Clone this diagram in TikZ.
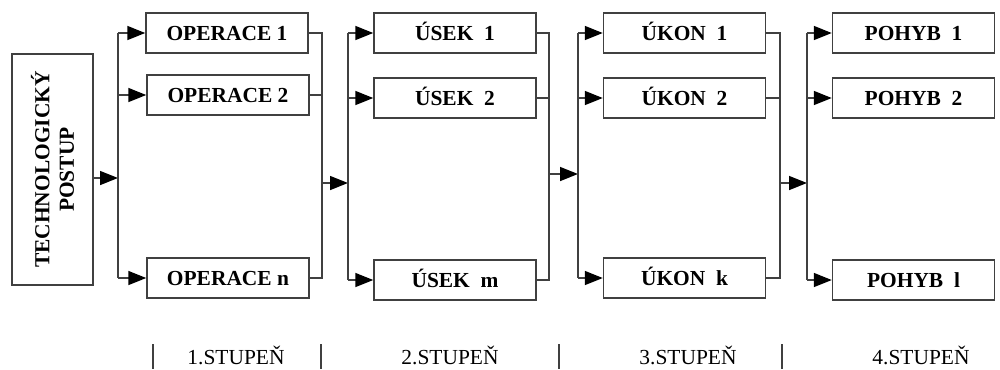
\documentclass[tikz,border=0pt]{standalone}
\usepackage{fontspec}
\setmainfont{Liberation Serif}
\usetikzlibrary{arrows.meta}

\begin{document}
\begin{tikzpicture}[x = 0.02cm, y = -0.02cm, line width = 0.85pt, draw = black!75,
	blok/.style = {draw, fill=white, minimum width=3.24cm, minimum height=0.8cm, inner sep=0pt, text height=8.2pt, text depth=0pt, font=\fontsize{12.2}{14}\selectfont\bfseries},
	sipka/.style = {-{Triangle[length=0.36cm,width=0.28cm,fill=black,color=black]}},
	stupen/.style = {font=\fontsize{12.2}{14}\selectfont},]
		\useasboundingbox (0,0) rectangle (1000,369);

		\node[blok, rotate=90, minimum width=4.62cm, minimum height=1.62cm, text height=, text depth=, align=center] (T) at (52.5,169.5) {TECHNOLOGICKÝ\\POSTUP};

		\node[blok] (O1) at (227,33) {OPERACE 1};
		\node[blok] (O2) at (228,95) {OPERACE 2};
		\node[blok] (On) at (228,278) {OPERACE n};

		\node[blok] (U1) at (455,33) {ÚSEK\enspace 1};
		\node[blok] (U2) at (455,98) {ÚSEK\enspace 2};
		\node[blok] (Um) at (455,280) {ÚSEK\enspace m};

		\node[blok] (K1) at (684.5,33) {ÚKON\enspace 1};
		\node[blok] (K2) at (684.5,98) {ÚKON\enspace 2};
		\node[blok] (Kk) at (684.5,278) {ÚKON\enspace k};

		\node[blok] (P1) at (913.5,33) {POHYB\enspace 1};
		\node[blok] (P2) at (913.5,98) {POHYB\enspace 2};
		\node[blok] (Pl) at (913.5,280) {POHYB\enspace l};

		% kmeny a sberace
		\coordinate (t1) at (118,178);
		\coordinate (c1) at (322,183);
		\coordinate (t2) at (348,183);
		\coordinate (c2) at (549,174);
		\coordinate (t3) at (578,174);
		\coordinate (c3) at (780,183);
		\coordinate (t4) at (807,183);

		% 1. stupen
		\draw[sipka] (T.south |- t1) -- (t1);
		\draw (O1.west -| t1) -- (On.west -| t1);
		\draw[sipka] (O1.west -| t1) -- (O1.west);
		\draw[sipka] (O2.west -| t1) -- (O2.west);
		\draw[sipka] (On.west -| t1) -- (On.west);
		\draw (O1.east) -- (O1.east -| c1) -- (On.east -| c1) -- (On.east);
		\draw (O2.east) -- (O2.east -| c1);

		% 2. stupen
		\draw[sipka] (c1) -- (t2);
		\draw (U1.west -| t2) -- (Um.west -| t2);
		\draw[sipka] (U1.west -| t2) -- (U1.west);
		\draw[sipka] (U2.west -| t2) -- (U2.west);
		\draw[sipka] (Um.west -| t2) -- (Um.west);
		\draw (U1.east) -- (U1.east -| c2) -- (Um.east -| c2) -- (Um.east);
		\draw (U2.east) -- (U2.east -| c2);

		% 3. stupen
		\draw[sipka] (c2) -- (t3);
		\draw (K1.west -| t3) -- (Kk.west -| t3);
		\draw[sipka] (K1.west -| t3) -- (K1.west);
		\draw[sipka] (K2.west -| t3) -- (K2.west);
		\draw[sipka] (Kk.west -| t3) -- (Kk.west);
		\draw (K1.east) -- (K1.east -| c3) -- (Kk.east -| c3) -- (Kk.east);
		\draw (K2.east) -- (K2.east -| c3);

		% 4. stupen
		\draw[sipka] (c3) -- (t4);
		\draw (P1.west -| t4) -- (Pl.west -| t4);
		\draw[sipka] (P1.west -| t4) -- (P1.west);
		\draw[sipka] (P2.west -| t4) -- (P2.west);
		\draw[sipka] (Pl.west -| t4) -- (Pl.west);

		% popisky
		\draw[line width=0.6pt] (153,344) -- (153,369);
		\draw[line width=0.6pt] (321,344) -- (321,369);
		\draw[line width=0.6pt] (559,344) -- (559,369);
		\draw[line width=0.6pt] (782,344) -- (782,369);
		\node[stupen] (S1) at (236,355) {1.STUPEŇ};
		\node[stupen] (S2) at (450,355) {2.STUPEŇ};
		\node[stupen] (S3) at (688,355) {3.STUPEŇ};
		\node[stupen] (S4) at (921,355) {4.STUPEŇ};
	\end{tikzpicture}
\end{document}
